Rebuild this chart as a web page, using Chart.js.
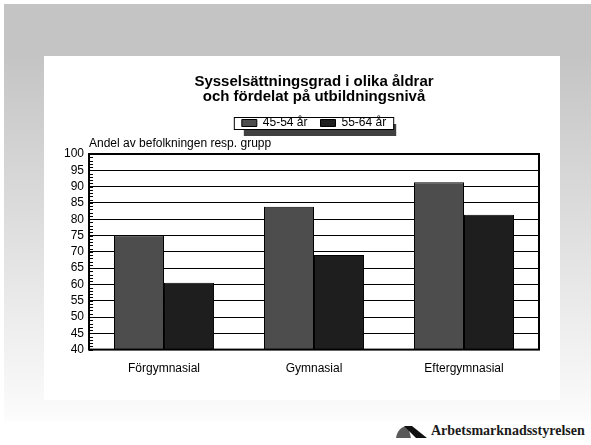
<!DOCTYPE html>
<html>
<head>
<meta charset="utf-8">
<script src="https://cdn.jsdelivr.net/npm/chart.js@4/dist/chart.umd.min.js"></script>
<style>
  body { margin: 0; background: #fff; width: 591px; height: 445px; overflow: hidden; }
  #bg { position: absolute; left: 4px; top: 4px; width: 587px; height: 417px;
        background: linear-gradient(#c4c4c4 0%, #c4c4c4 12%, #fcfcfc 100%); }
  #card { position: absolute; left: 44px; top: 56px; width: 516px; height: 344px; background: #fff; }
  #myChart { position: absolute; left: 44px; top: 56px; }
  #logo { position: absolute; left: 396px; top: 424px; height: 16px; white-space: nowrap; }
  #logo svg { position: absolute; left: 0; top: 1px; }
  #logo span { position: absolute; left: 35px; top: -1px; font: bold 14px "Liberation Serif", "DejaVu Serif", serif; color: #1a1a1a; }
</style>
</head>
<body>
<div id="bg"></div>
<div id="card"></div>
<canvas id="myChart" width="538" height="344"></canvas>
<div id="logo">
  <svg width="32" height="14" viewBox="0 0 32 14">
    <path d="M0 13 C1 6 5 1 12 1 L15 13 Z" fill="#5a5a5a"/>
    <path d="M8 1 L16 1 L31 13 L20 13 Z" fill="#111"/>
  </svg>
  <span>Arbetsmarknadsstyrelsen</span>
</div>
<script>
const categories = ["Förgymnasial", "Gymnasial", "Eftergymnasial"];
const seriesNames = ["45-54 år", "55-64 år"];
const values4554 = [75, 83.8, 91.3];
const values5564 = [60.5, 69, 81.4];
const yMin = 40;
const yMax = 100;
const yStep = 5;

Chart.defaults.font.family = '"Liberation Sans", Arial, sans-serif';
Chart.defaults.font.size = 12;
Chart.defaults.color = '#000';

const canvas = document.getElementById("myChart");
const ctx = canvas.getContext("2d");

// white legend box with drop shadow, drawn before the legend itself
const legendFrame = {
  id: 'legendFrame',
  beforeDraw(chart) {
    const boxes = chart.legend && chart.legend.legendHitBoxes;
    if (!boxes || !boxes.length) return;
    const first = boxes[0];
    const last = boxes[boxes.length - 1];
    const x1 = first.left - 8;
    const x2 = last.left + last.width + 7;
    const y1 = first.top;
    const y2 = first.top + first.height;
    const c = chart.ctx;
    c.save();
    c.fillStyle = '#404040';
    c.fillRect(x1 + 10, y1 + 7, x2 - x1 - 7, y2 - y1);
    c.fillStyle = '#fff';
    c.fillRect(x1, y1, x2 - x1, y2 - y1);
    c.strokeStyle = '#000';
    c.lineWidth = 1;
    c.strokeRect(x1 + 0.5, y1 + 0.5, x2 - x1, y2 - y1);
    c.restore();
  }
};

// frame round the plot and small ticks every unit on the value axis
const plotFrame = {
  id: 'plotFrame',
  afterDatasetsDraw(chart) {
    const a = chart.chartArea;
    const y = chart.scales.y;
    const c = chart.ctx;
    c.save();
    c.strokeStyle = '#000';
    c.lineWidth = 1;
    c.beginPath();
    for (let v = yMin; v <= yMax; v++) {
      const py = Math.round(y.getPixelForValue(v)) + 0.5;
      c.moveTo(a.left, py);
      c.lineTo(a.left + 4, py);
    }
    c.stroke();
    c.lineWidth = 2;
    c.strokeRect(a.left, a.top, a.right - a.left, a.bottom - a.top);
    c.restore();
  }
};

const chart = new Chart(ctx, {
  type: "bar",
  data: {
    labels: categories,
    datasets: [
      {
        label: seriesNames[0],
        data: values4554,
        backgroundColor: "#4d4d4d",
        borderColor: "#000",
        borderWidth: 1,
      },
      {
        label: seriesNames[1],
        data: values5564,
        backgroundColor: "#1e1e1e",
        borderColor: "#000",
        borderWidth: 1,
      },
    ],
  },
  options: {
    responsive: false,
    devicePixelRatio: 1,
    animation: false,
    categoryPercentage: 0.667,
    barPercentage: 1.0,
    layout: {
      padding: { left: 15, right: 43, top: 0, bottom: 12 }
    },
    scales: {
      x: {
        grid: { display: false, drawTicks: false },
        border: { display: false },
        ticks: { padding: 12, color: '#000', font: { size: 12 } },
      },
      x2: {
        type: 'category',
        position: 'top',
        grid: { display: false, drawTicks: false },
        border: { display: false },
        ticks: { display: false },
        title: {
          display: true,
          text: 'Andel av befolkningen resp. grupp',
          align: 'start',
          color: '#000',
          font: { size: 12 },
          padding: { top: -3, bottom: 3.6 },
        },
      },
      y: {
        min: yMin,
        max: yMax,
        grid: { color: '#000', lineWidth: 1, drawTicks: false },
        border: { display: false },
        ticks: { stepSize: yStep, autoSkip: false, padding: 5, color: '#000', font: { size: 12 } },
      },
    },
    plugins: {
      tooltip: { enabled: false },
      title: {
        display: true,
        fullSize: false,
        text: ["Sysselsättningsgrad i olika åldrar", "och fördelat på utbildningsnivå"],
        color: '#000',
        font: { size: 15, weight: 'bold', lineHeight: 1 },
        padding: { top: 18, bottom: 0 },
      },
      legend: {
        fullSize: false,
        labels: {
          color: '#000',
          boxWidth: 15,
          boxHeight: 7,
          padding: 13,
          font: { size: 12 },
        },
      },
    },
  },
  plugins: [legendFrame, plotFrame],
});
</script>
</body>
</html>
